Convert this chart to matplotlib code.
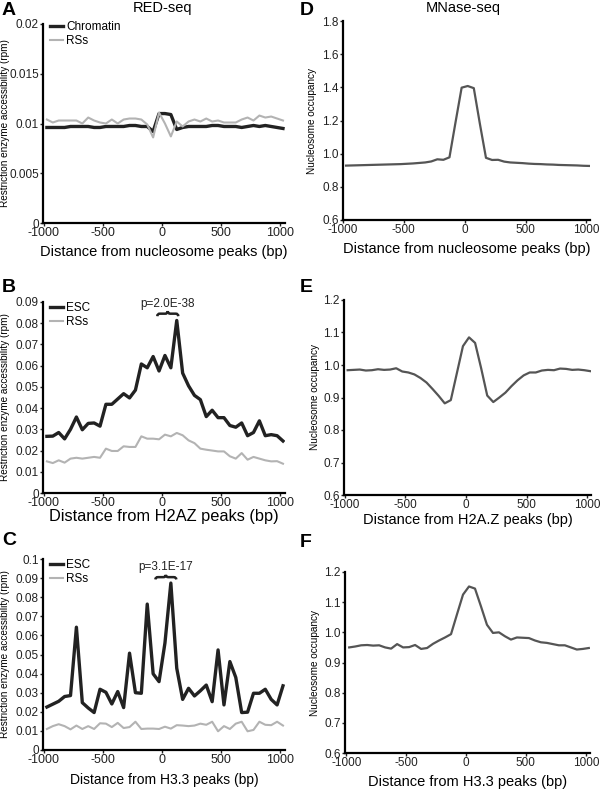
import numpy as np
import matplotlib.pyplot as plt
from matplotlib.path import Path
from matplotlib.patches import PathPatch

plt.rcParams['font.family'] = ['Liberation Sans', 'DejaVu Sans']

# bin centres (bp)
pos = np.arange(-975, 1026, 50)

# RED-seq, nucleosome peaks
a_chromatin = [0.0096, 0.0096, 0.0096, 0.0096, 0.0097, 0.0097, 0.0097, 0.0097, 0.0096, 0.0096,
               0.0097, 0.0097, 0.0097, 0.0097, 0.0098, 0.0098, 0.0097, 0.0097, 0.0092, 0.0110,
               0.0110, 0.0109, 0.0094, 0.0096, 0.0097, 0.0097, 0.0097, 0.0097, 0.0098, 0.0098,
               0.0097, 0.0097, 0.0097, 0.0096, 0.0097, 0.0098, 0.0097, 0.0098, 0.0097, 0.0096, 0.0095]
a_rss = [0.0104, 0.0101, 0.0103, 0.0103, 0.0103, 0.0103, 0.0100, 0.0106, 0.0103, 0.0101,
         0.0100, 0.0104, 0.0100, 0.0104, 0.0105, 0.0105, 0.0104, 0.0099, 0.0086, 0.0111,
         0.0100, 0.0087, 0.0102, 0.0097, 0.0102, 0.0104, 0.0102, 0.0105, 0.0102, 0.0103,
         0.0101, 0.0101, 0.0101, 0.0104, 0.0106, 0.0103, 0.0108, 0.0106, 0.0107, 0.0105, 0.0103]

# RED-seq, H2AZ peaks
b_esc = [0.0267, 0.0268, 0.0285, 0.0255, 0.0300, 0.0358, 0.0298, 0.0328, 0.0330, 0.0315,
         0.0418, 0.0418, 0.0443, 0.0468, 0.0448, 0.0485, 0.0608, 0.0590, 0.0643, 0.0575,
         0.0648, 0.0590, 0.0813, 0.0565, 0.0505, 0.0460, 0.0440, 0.0360, 0.0390, 0.0355,
         0.0355, 0.0318, 0.0310, 0.0330, 0.0270, 0.0285, 0.0340, 0.0270, 0.0275, 0.0270, 0.0245]
b_rss = [0.0149, 0.0141, 0.0154, 0.0143, 0.0162, 0.0166, 0.0162, 0.0166, 0.0170, 0.0166,
         0.0209, 0.0198, 0.0198, 0.0220, 0.0217, 0.0217, 0.0267, 0.0256, 0.0256, 0.0253,
         0.0275, 0.0267, 0.0283, 0.0272, 0.0248, 0.0235, 0.0209, 0.0204, 0.0200, 0.0196,
         0.0196, 0.0173, 0.0162, 0.0188, 0.0157, 0.0170, 0.0162, 0.0154, 0.0149, 0.0150, 0.0138]

# RED-seq, H3.3 peaks
c_esc = [0.0225, 0.0240, 0.0255, 0.0280, 0.0285, 0.0643, 0.0248, 0.0220, 0.0196, 0.0318,
         0.0302, 0.0241, 0.0306, 0.0222, 0.0507, 0.0300, 0.0297, 0.0764, 0.0399, 0.0358,
         0.0560, 0.0874, 0.0428, 0.0265, 0.0323, 0.0283, 0.0310, 0.0340, 0.0253, 0.0524,
         0.0236, 0.0463, 0.0380, 0.0196, 0.0198, 0.0297, 0.0297, 0.0318, 0.0265, 0.0236, 0.0336]
c_rss = [0.0110, 0.0125, 0.0135, 0.0125, 0.0108, 0.0128, 0.0110, 0.0125, 0.0110, 0.0140,
         0.0138, 0.0120, 0.0142, 0.0115, 0.0120, 0.0148, 0.0110, 0.0112, 0.0112, 0.0110,
         0.0122, 0.0112, 0.0130, 0.0128, 0.0125, 0.0128, 0.0138, 0.0132, 0.0148, 0.0098,
         0.0125, 0.0110, 0.0138, 0.0148, 0.0098, 0.0105, 0.0148, 0.0132, 0.0130, 0.0148, 0.0128]

# MNase-seq occupancy
d_occ = [0.928, 0.929, 0.930, 0.931, 0.932, 0.933, 0.934, 0.935, 0.936, 0.937,
         0.939, 0.941, 0.944, 0.947, 0.953, 0.966, 0.963, 0.978, 1.190, 1.398,
         1.408, 1.395, 1.180, 0.975, 0.962, 0.963, 0.952, 0.947, 0.945, 0.943,
         0.940, 0.938, 0.937, 0.935, 0.934, 0.932, 0.931, 0.930, 0.929, 0.927, 0.926]
e_occ = [0.984, 0.985, 0.986, 0.983, 0.984, 0.987, 0.985, 0.986, 0.990, 0.980,
         0.977, 0.971, 0.960, 0.946, 0.926, 0.905, 0.882, 0.892, 0.975, 1.058,
         1.085, 1.068, 0.990, 0.906, 0.886, 0.900, 0.915, 0.935, 0.953, 0.968,
         0.977, 0.977, 0.983, 0.985, 0.984, 0.989, 0.988, 0.985, 0.986, 0.984, 0.981]
f_occ = [0.950, 0.953, 0.957, 0.958, 0.956, 0.957, 0.950, 0.946, 0.961, 0.950,
         0.951, 0.958, 0.945, 0.948, 0.962, 0.973, 0.983, 0.994, 1.060, 1.125,
         1.152, 1.145, 1.086, 1.025, 0.998, 1.000, 0.987, 0.976, 0.983, 0.982,
         0.981, 0.973, 0.967, 0.965, 0.961, 0.957, 0.957, 0.950, 0.943, 0.945, 0.948]

xticks = [-1000, -500, 0, 500, 1000]
red_ylabel = "Restriction enzyme accessibility (rpm)"
mn_ylabel = "Nucleosome occupancy"

dark = "#222222"
light = "#b3b3b3"
mid = "#555555"

fig = plt.figure(figsize=(6, 7.89), dpi=100)
W, H = 600, 789


def add_axes(left, top, right, bottom):
    return fig.add_axes([left / W, 1 - bottom / H, (right - left) / W, (bottom - top) / H])


def style(ax, xlim, yticks, ylabels, ylabel, xlabel, xlab_size=10.5, xtick_size=9,
          ytick_size=8.5, ylab_x=-0.13, xpad=1):
    ax.spines[["top", "right"]].set_visible(False)
    for s in ("left", "bottom"):
        ax.spines[s].set_linewidth(1.6)
    ax.set_xlim(*xlim)
    ax.set_ylim(yticks[0], yticks[-1])
    ax.set_xticks(xticks)
    ax.set_xticklabels([str(t) for t in xticks])
    ax.set_yticks(yticks)
    ax.set_yticklabels(ylabels)
    ax.tick_params(length=2, width=1, pad=1, colors="#222222")
    ax.tick_params(axis="x", labelsize=xtick_size)
    ax.tick_params(axis="y", labelsize=ytick_size)
    ax.set_ylabel(ylabel, fontsize=7.2)
    ax.yaxis.set_label_coords(ylab_x, 0.5)
    ax.set_xlabel(xlabel, fontsize=xlab_size, labelpad=xpad)


def brace(ax, x0, x1, y, h, text):
    xm = (x0 + x1) / 2
    w = (x1 - x0) * 0.12
    verts = [(x0, y - h), (x0, y), (x0 + w, y),
             (xm - w, y), (xm, y), (xm, y + h), (xm, y), (xm + w, y),
             (x1 - w, y), (x1, y), (x1, y - h)]
    codes = [Path.MOVETO, Path.CURVE3, Path.CURVE3,
             Path.LINETO, Path.CURVE3, Path.CURVE3, Path.CURVE3, Path.CURVE3,
             Path.LINETO, Path.CURVE3, Path.CURVE3]
    ax.add_patch(PathPatch(Path(verts, codes), fill=False, lw=1.8, color=dark, clip_on=False))
    ax.text(xm, y + h * 1.6, text, ha="center", va="bottom", fontsize=8.5, color=dark)


def legend(ax, labels, y_anchor):
    ax.legend(labels, loc="upper left", bbox_to_anchor=(0.03, y_anchor), frameon=False,
              fontsize=8.5, handlelength=1.1, handletextpad=0.25, labelspacing=0.15,
              borderaxespad=0, borderpad=0)


# A
ax = add_axes(43, 24, 285, 223)
ax.plot(pos, a_chromatin, color=dark, lw=2.4)
ax.plot(pos, a_rss, color=light, lw=1.5)
style(ax, (-1008, 1042), [0, 0.005, 0.01, 0.015, 0.02], ["0", "0.005", "0.01", "0.015", "0.02"],
      red_ylabel, "Distance from nucleosome peaks (bp)", ylab_x=-0.135, xpad=4)
legend(ax, ["Chromatin", "RSs"], 1.015)
fig.text(163 / W, 1 - 8 / H, "RED-seq", fontsize=10.5, ha="center", va="center")

# B
ax = add_axes(43, 302, 285, 493)
ax.plot(pos, b_esc, color=dark, lw=2.4)
ax.plot(pos, b_rss, color=light, lw=1.5)
yt = [i / 100 for i in range(10)]
style(ax, (-1008, 1042), yt, ["0"] + [f"{v:.2f}" for v in yt[1:]],
      red_ylabel, "Distance from H2AZ peaks (bp)", xlab_size=11.8, ylab_x=-0.135, xpad=0)
legend(ax, ["ESC", "RSs"], 1.0)
brace(ax, -40, 138, 0.0845, 0.0012, "p=2.0E-38")

# C
ax = add_axes(43, 559, 285, 750)
ax.plot(pos, c_esc, color=dark, lw=2.4)
ax.plot(pos, c_rss, color=light, lw=1.5)
yt = [i / 100 for i in range(11)]
style(ax, (-1008, 1042), yt, ["0"] + [f"{v:.2f}" for v in yt[1:10]] + ["0.1"],
      red_ylabel, "Distance from H3.3 peaks (bp)", xlab_size=10, ylab_x=-0.135, xpad=5)
legend(ax, ["ESC", "RSs"], 1.0)
brace(ax, -56, 121, 0.0905, 0.0012, "p=3.1E-17")

# D
ax = add_axes(343, 21, 590, 220)
ax.plot(pos, d_occ, color=mid, lw=1.6)
yt = [0.6, 0.8, 1.0, 1.2, 1.4, 1.6, 1.8]
style(ax, (-1000, 1030), yt, [f"{v:.1f}" for v in yt], mn_ylabel,
      "Distance from nucleosome peaks (bp)", xtick_size=8.5, ytick_size=8.5, ylab_x=-0.105, xpad=4)
fig.text(463 / W, 1 - 8 / H, "MNase-seq", fontsize=10.5, ha="center", va="center")

# E
ax = add_axes(344, 300, 591, 495)
ax.plot(pos, e_occ, color=mid, lw=1.6)
yt = [0.6, 0.7, 0.8, 0.9, 1.0, 1.1, 1.2]
style(ax, (-1005, 1030), yt, [f"{v:.1f}" for v in yt], mn_ylabel,
      "Distance from H2A.Z peaks (bp)", xtick_size=8.5, ytick_size=8.5, ylab_x=-0.097)

# F
ax = add_axes(345, 572, 590, 753)
ax.plot(pos, f_occ, color=mid, lw=1.6)
style(ax, (-1010, 1035), yt, [f"{v:.1f}" for v in yt], mn_ylabel,
      "Distance from H3.3 peaks (bp)", xtick_size=8.5, ytick_size=8.5, ylab_x=-0.1, xpad=4)

# panel letters
for lab, x, y in [("A", 2, 2), ("B", 2, 279), ("C", 2, 532), ("D", 300, 2), ("E", 300, 279), ("F", 300, 534)]:
    fig.text(x / W, 1 - y / H, lab, fontsize=14, fontweight="bold", ha="left", va="top")

fig.savefig("out.png", dpi=100)
